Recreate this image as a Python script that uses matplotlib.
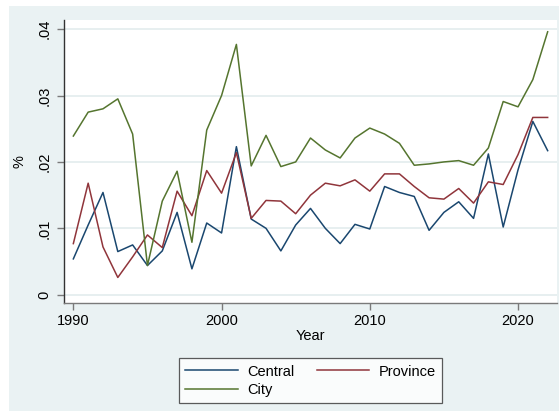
import numpy as np
import matplotlib.pyplot as plt

plt.rcParams['font.family'] = ['Liberation Sans', 'DejaVu Sans']

years = list(range(1990, 2023))

central = [0.0054, 0.0105, 0.0154, 0.0065, 0.0075, 0.0044, 0.0066, 0.0124,
           0.0039, 0.0108, 0.0093, 0.0223, 0.0114, 0.0100, 0.0066, 0.0105,
           0.0130, 0.0100, 0.0077, 0.0106, 0.0099, 0.0163, 0.0154, 0.0148,
           0.0097, 0.0124, 0.0140, 0.0115, 0.0212, 0.0102, 0.0188, 0.0261,
           0.0217]
province = [0.0077, 0.0168, 0.0072, 0.0026, 0.0057, 0.0090, 0.0071, 0.0156,
            0.0119, 0.0187, 0.0153, 0.0214, 0.0115, 0.0142, 0.0141, 0.0122,
            0.0150, 0.0168, 0.0164, 0.0173, 0.0156, 0.0182, 0.0182, 0.0163,
            0.0146, 0.0144, 0.0160, 0.0138, 0.0170, 0.0166, 0.0211, 0.0267,
            0.0267]
city = [0.0239, 0.0275, 0.0280, 0.0295, 0.0242, 0.0044, 0.0141, 0.0186,
        0.0079, 0.0248, 0.0300, 0.0377, 0.0194, 0.0240, 0.0193, 0.0200,
        0.0236, 0.0218, 0.0206, 0.0236, 0.0251, 0.0242, 0.0228, 0.0195,
        0.0197, 0.0200, 0.0202, 0.0195, 0.0221, 0.0291, 0.0283, 0.0324,
        0.0396]

yticks = [0, 0.01, 0.02, 0.03, 0.04]
ytick_labels = ['0', '.01', '.02', '.03', '.04']
xticks = [1990, 2000, 2010, 2020]

bg = '#EAF2F3'
fig = plt.figure(figsize=(5.59, 4.11), dpi=100)
fig.patch.set_facecolor('white')
# graph region background (slightly inset, white strip left/top)
fig.patches.append(plt.Rectangle((9 / 559, 0), 1 - 9 / 559, 1 - 6 / 411,
                                 transform=fig.transFigure, facecolor=bg,
                                 edgecolor='none', zorder=-10))

ax = fig.add_axes([64.3 / 559, 1 - 302.7 / 411, (556.7 - 64.3) / 559,
                   (302.7 - 20.5) / 411])
ax.set_facecolor('white')

l1, = ax.plot(years, central, color='#1A476F', lw=1.1, label='Central')
l2, = ax.plot(years, province, color='#90353B', lw=1.1, label='Province')
l3, = ax.plot(years, city, color='#55752F', lw=1.1, label='City')

ax.set_xlim(1989.39, 2022.61)
ax.set_ylim(-0.0012, 0.0413)
ax.set_yticks(yticks)
ax.set_yticklabels(ytick_labels, rotation=90, va='center')
ax.set_xticks(xticks)
ax.grid(axis='y', color='#E3ECED', lw=1.2)
ax.set_axisbelow(True)

for s in ['top', 'right']:
    ax.spines[s].set_visible(False)
ax.spines['left'].set_color('#333333')
ax.spines['bottom'].set_color('#7A7A7A')
ax.spines['left'].set_linewidth(1.0)
ax.spines['bottom'].set_linewidth(1.0)
ax.tick_params(axis='both', colors='#7A7A7A', labelcolor='black',
               labelsize=10.5, length=5, width=1)
ax.tick_params(axis='y', pad=4)
ax.tick_params(axis='x', pad=3)

ax.set_xlabel('Year', fontsize=10.5, labelpad=1)
ax.set_ylabel('%', fontsize=10.5, labelpad=8)

# legend filled column-wise: Central/City in column 1, Province in column 2
leg = fig.legend([l1, l3, l2], ['Central', 'City', 'Province'],
                 loc='upper center', bbox_to_anchor=(310.5 / 559, 1 - 350.7 / 411),
                 ncol=2, fontsize=10.5, frameon=True, fancybox=False,
                 handlelength=3.6, handletextpad=0.65, columnspacing=1.5,
                 labelspacing=0.3, borderpad=0.45)
leg.get_frame().set_edgecolor('#333333')
leg.get_frame().set_linewidth(0.9)

fig.savefig('out.png', dpi=100, facecolor=fig.get_facecolor())
